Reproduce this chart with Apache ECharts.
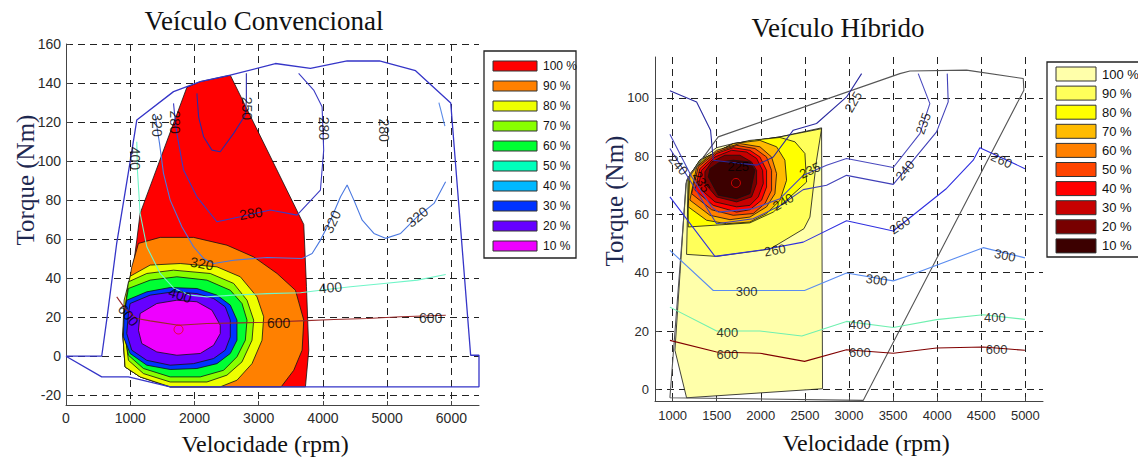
<!DOCTYPE html>
<html>
<head>
<meta charset="utf-8">
<script src="https://cdn.jsdelivr.net/npm/echarts@6/dist/echarts.min.js"></script>
<style>
html, body { margin: 0; padding: 0; background: #fff; }
#chart { width: 1138px; height: 458px; }
</style>
</head>
<body>
<div id="chart"></div>
<script>
// ---- Veículo Convencional (left) ----
var convXTicks = [0, 1000, 2000, 3000, 4000, 5000, 6000];
var convYTicks = [-20, 0, 20, 40, 60, 80, 100, 120, 140, 160];
var convLevels = ['100 %', '90 %', '80 %', '70 %', '60 %', '50 %', '40 %', '30 %', '20 %', '10 %'];

var convEnvelope = [[0, 0], [556, 0], [640, 20], [790, 58], [1000, 100], [1102, 121], [1674, 135.6], [2090, 140.7],
  [2558, 144], [3260, 150], [3806, 147.5], [4377, 151.3], [4880, 151.3], [5442, 146.3], [5990, 129.8],
  [6300, 0.5], [6430, 0.5], [6430, -15.7], [1622, -15.7], [972, -10.6], [556, -10.6], [0, 0]];

var convFill100 = [[1882, 137.8], [2090, 140.7], [2558, 144], [3702, 67.5], [3744, 35.6], [3780, 3.1], [3728, -15.7],
  [1622, -15.7], [1154, -10.6], [920, -5.5], [884, 11.6], [920, 13.3], [972, 30.4], [1040, 44.1], [1102, 59.5], [1154, 73.2]];
var convFill90 = [[1128, 57.8], [1466, 60.9], [1986, 60.9], [2506, 56.9], [2922, 50.9], [3286, 42.4], [3572, 33.8],
  [3702, 18.5], [3676, 3.1], [3546, -7.2], [3350, -15.7], [1622, -15.7], [1154, -10.6], [920, -5.5], [884, 11.6],
  [936, 28.7], [1024, 45.8]];
var convFill80 = [[1000, 41], [1310, 46.7], [1778, 47.5], [2350, 45.8], [2714, 40.7], [2974, 30.4], [3078, 20.2],
  [3052, 8.2], [2896, -3.8], [2662, -12.3], [2402, -15.7], [1622, -15.7], [1154, -10.6], [920, -5.5], [884, 11.6], [905, 28.7]];
var convFill70 = [[972, 38.1], [1258, 42.4], [1674, 44.1], [2246, 42.4], [2610, 37.3], [2818, 28.7], [2922, 18.5],
  [2896, 8.2], [2740, -2.9], [2506, -9.7], [2194, -13.2], [1622, -13.2], [1206, -8.9], [972, -2.1], [920, 11.6], [936, 28.7]];
var convFill60 = [[972, 34.7], [1310, 39.0], [1726, 40.7], [2194, 39.0], [2558, 33.8], [2740, 27.0], [2818, 18.5],
  [2792, 8.2], [2662, -0.3], [2454, -7.2], [2090, -10.6], [1622, -10.6], [1206, -6.3], [972, 0.5], [905, 11.6], [920, 25.3]];
var convFill30 = [[946, 28.7], [1258, 33.0], [1622, 35.2], [2038, 34.7], [2350, 31.3], [2558, 26.2], [2662, 18.5],
  [2662, 8.2], [2558, 1.4], [2350, -3.8], [2038, -6.3], [1622, -6.8], [1258, -4.6], [998, 1.4], [894, 9.9], [905, 21.9]];
var convFill20 = [[998, 27.0], [1310, 31.3], [1674, 33.0], [2038, 32.1], [2298, 29.6], [2480, 25.3], [2558, 18.5],
  [2558, 9.9], [2480, 3.1], [2298, -1.2], [1986, -3.8], [1622, -4.6], [1258, -2.1], [1024, 3.1], [946, 11.6], [972, 21.9]];
var convFill10 = [[1154, 21.9], [1414, 27.0], [1726, 28.7], [2038, 27.9], [2272, 23.6], [2402, 15.9], [2402, 11.6],
  [2298, 5.6], [2090, 1.4], [1726, 0.5], [1414, 2.2], [1180, 6.5], [1128, 13.3]];

var convLine250 = [[2808, 145], [2808, 131.3], [2792, 123.6], [2610, 114.2], [2402, 104.8], [2272, 105.6],
  [2142, 112.5], [2064, 122.7], [2038, 134.7]];
var convLine280 = [[1674, 129.6], [1700, 121], [1726, 114.2], [1830, 95.4], [2038, 81.7], [2350, 68.9], [2714, 71.5],
  [3182, 74.9], [3597, 72.3], [3961, 85.1], [4012, 105.6], [3987, 127.8], [3856, 136.4], [3622, 145]];
var convLine320 = [[1388, 123.6], [1456, 109.1], [1518, 93.7], [1622, 80.0], [1804, 66.3], [1986, 56.1], [2142, 50.1],
  [2298, 47.5], [2610, 49.2], [3130, 50.6], [3676, 50.1], [3832, 52.6], [3962, 59.5], [4118, 69.7], [4274, 81.7],
  [4377, 87.7], [4482, 80.0], [4612, 69.7], [4794, 62.9], [4974, 60.4], [5210, 62.9], [5470, 71.5], [5730, 78.3], [5910, 89.4]];
var convLine320b = [[5806, 129.9], [5899, 117.9]];
var convLine400 = [[1102, 109.9], [1112, 95.4], [1154, 73.2], [1258, 56.1], [1466, 42.4], [1673, 35.0], [1934, 31.3],
  [2194, 30.4], [2610, 31.3], [3130, 32.1], [3650, 32.5], [3962, 33.8], [4430, 35.6], [4950, 37.3], [5470, 39.0], [5912, 41.9]];
var convLine600 = [[790, 30.4], [920, 24.4], [1102, 19.3], [1310, 18.1], [1752, 15.9], [2194, 16.8], [2714, 17.1],
  [3130, 17.4], [3650, 18.1], [4170, 18.8], [4690, 19.3], [5210, 20.2], [5912, 21.0]];
var convCenter = [[1752, 13.7]];

// [rpm, Nm, text, angle]
var convLabels = [
  [2818, 127, '250', -90], [1690, 120, '280', -90], [1414, 118.5, '320', -90], [1076, 101.4, '400', -90],
  [2880, 73.2, '280', 8], [4012, 116.8, '280', -90], [4948, 115.9, '280', -90],
  [2116, 47.5, '320', -10], [4143, 68.9, '320', 65], [5468, 71.4, '320', 40],
  [1778, 31.3, '400', -18], [4117, 35.2, '400', 5],
  [972, 21.0, '600', -50], [3311, 16.8, '600', 0], [5676, 19.8, '600', 0]
];

// ---- Veículo Híbrido (right) ----
var hibXTicks = [1000, 1500, 2000, 2500, 3000, 3500, 4000, 4500, 5000];
var hibYTicks = [0, 20, 40, 60, 80, 100];
var hibLevels = ['100 %', '90 %', '80 %', '70 %', '60 %', '50 %', '40 %', '30 %', '20 %', '10 %'];

var hibEnvelope = [[969, -2.9], [1158, 71.7], [1517, 86.6], [3577, 108.3], [3691, 109.2], [4333, 109.5],
  [4976, 106.6], [4983, 102.6], [3161, -3.8], [969, -2.9]];

var hibFill100 = [[1158, -2.9], [1026, 13.4], [1151, 70.6], [1177, 72.6], [1309, 78.6], [1498, 82.9], [1687, 84.3],
  [2217, 86.6], [2689, 89.7], [2700, 0.2]];
var hibFill90 = [[1158, 46.3], [1498, 45.6], [2103, 48.1], [2489, 55.1], [2557, 59.1], [2632, 78.6], [2689, 89.4],
  [2217, 86.6], [1687, 84.3], [1309, 78.6], [1177, 72.6]];
var hibFill80 = [[1177, 55.7], [1876, 57.1], [2141, 60.8], [2519, 71.1], [2500, 80.9], [2387, 84.9], [2217, 86.4],
  [1876, 85.4], [1687, 84.1], [1309, 78.6], [1177, 72.6]];
var hibFill70 = [[1177, 62.6], [1385, 58.0], [1612, 56.8], [1876, 57.4], [2065, 60.3], [2217, 64.8], [2292, 71.7],
  [2273, 78.6], [2179, 83.2], [1990, 85.4], [1687, 84.3], [1385, 79.7], [1196, 74.0]];
var hibFill60 = [[1196, 64.9], [1423, 59.7], [1650, 58.2], [1876, 59.1], [2065, 62.6], [2160, 67.1], [2179, 74.0],
  [2122, 79.7], [1990, 83.2], [1763, 84.3], [1498, 82.0], [1272, 76.3]];
var hibFill50 = [[1215, 67.1], [1442, 61.6], [1687, 59.7], [1914, 60.3], [2047, 63.7], [2122, 68.3], [2122, 75.1],
  [2065, 79.7], [1933, 82.6], [1725, 83.7], [1498, 81.4], [1291, 76.3]];
var hibFill40 = [[1253, 68.3], [1461, 63.1], [1725, 60.8], [1876, 61.6], [2009, 64.9], [2065, 69.4], [2065, 75.1],
  [1990, 79.7], [1876, 82.0], [1687, 82.9], [1498, 80.9], [1309, 75.7]];
var hibFill30 = [[1291, 69.4], [1480, 64.3], [1725, 62.6], [1876, 63.1], [1971, 66.0], [2028, 70.6], [2020, 75.1],
  [1952, 79.2], [1839, 81.4], [1669, 82.0], [1480, 79.7], [1328, 75.1]];
var hibFill20 = [[1366, 70.6], [1498, 66.0], [1725, 64.3], [1895, 66.0], [1952, 70.6], [1952, 75.1], [1895, 78.0],
  [1763, 80.3], [1593, 80.3], [1442, 78.0], [1366, 74.6]];
var hibFill10 = [[1404, 72.9], [1517, 66.6], [1725, 65.4], [1876, 67.1], [1933, 75.1], [1876, 78.0], [1687, 78.6],
  [1536, 78.0], [1423, 75.7]];

var hibLine225 = [[969, 102.4], [1272, 98.6], [1430, 88.9], [1461, 78.6], [1631, 78.0], [1952, 76.9], [2141, 79.7],
  [2368, 88.9], [2632, 91.2], [2973, 100.3], [3143, 108.3]];
var hibLine235 = [[969, 87.5], [1215, 72.9], [1442, 62.6], [1517, 60.8], [1914, 62.0], [2217, 65.4], [2481, 73.4],
  [2746, 76.9], [2972, 79.2], [3502, 76.1], [3804, 87.7], [3917, 98.0], [3785, 108.3]];
var hibLine240 = [[969, 82.6], [1196, 71.7], [1498, 56.8], [1914, 58.5], [2217, 63.0], [2481, 68.5], [2746, 70.0],
  [2972, 73.4], [3502, 70.3], [3993, 88.3], [4125, 98.6], [4114, 108.3]];
var hibLine260 = [[969, 66.0], [1480, 45.6], [2028, 47.9], [2481, 50.5], [2972, 57.8], [3502, 54.3], [4106, 68.9],
  [4409, 78.6], [4484, 82.9], [4995, 75.7]];
var hibLine300 = [[969, 47.7], [1461, 33.9], [1990, 33.9], [2496, 33.9], [2972, 39.9], [3502, 37.2], [3691, 39.1],
  [4522, 48.6], [4995, 45.1]];
var hibLine400 = [[969, 28.2], [1499, 20.0], [1990, 20.0], [2465, 18.3], [2972, 23.3], [3502, 21.2], [3993, 23.9],
  [4522, 25.6], [4995, 24.0]];
var hibLine600 = [[969, 16.8], [1499, 12.8], [1990, 12.4], [2496, 9.6], [2972, 13.6], [3502, 12.4], [3993, 14.2],
  [4522, 14.5], [4995, 13.4]];
var hibCenter = [[1718, 70.8]];

var hibLabels = [
  [1064, 76.9, '240', -50], [1328, 71.2, '235', -60], [1744, 76.5, '225', 0], [2557, 75.1, '235', 25],
  [2254, 64.3, '240', 30], [2160, 47.7, '260', 10], [3048, 98.6, '225', 60], [3842, 91.2, '235', 70],
  [3634, 75.1, '240', 50], [3577, 56.3, '260', 35], [4730, 78.6, '260', -25],
  [1839, 33.7, '300', 0], [3313, 37.6, '300', -8], [4768, 46.0, '300', -12],
  [1620, 19.6, '400', 0], [3124, 22.2, '400', 0], [4655, 24.5, '400', 0],
  [1620, 12.0, '600', 0], [3124, 12.8, '600', 0], [4673, 13.7, '600', 0]
];

var convColors = ['#ff0000', '#ff8000', '#eeff00', '#88ff00', '#00ff33', '#00ffbb', '#00b8ff', '#0033ff', '#6600ff', '#ee00ff'];
var hibColors = ['#ffffaa', '#ffff5a', '#ffff00', '#ffbb00', '#ff8000', '#ff4400', '#ff0000', '#c80000', '#780000', '#3c0000'];

var chart = echarts.init(document.getElementById('chart'), null, { renderer: 'svg' });

function valueAxis(gi, min, max, ticks, fontSize, margin) {
  return {
    type: 'value', gridIndex: gi, min: min, max: max,
    axisLine: { show: true, onZero: false, lineStyle: { color: '#444', width: 1 } },
    axisTick: { show: true, inside: true, length: 4, customValues: ticks, lineStyle: { color: '#444' } },
    axisLabel: {
      customValues: ticks, color: '#2a2a2a', fontSize: fontSize, fontFamily: 'Liberation Sans', margin: margin,
      formatter: function(v) { return String(v); }
    },
    splitLine: { show: true, lineStyle: { color: '#222', width: 1, type: [7, 5] } }
  };
}

function fillSeries(gi, pts, color) {
  return {
    type: 'custom', xAxisIndex: gi, yAxisIndex: gi, z: 3, silent: true, animation: false,
    data: pts, encode: { x: 0, y: 1 },
    renderItem: function(params, api) {
      if (params.dataIndex !== 0) return null;
      return {
        type: 'polygon',
        shape: { points: pts.map(function(p) { return api.coord(p); }) },
        style: { fill: color, stroke: '#111', lineWidth: 0.8 }
      };
    }
  };
}

function lineSeries(gi, pts, color, width) {
  return {
    type: 'line', xAxisIndex: gi, yAxisIndex: gi, data: pts, symbol: 'none', showSymbol: false,
    lineStyle: { color: color, width: width || 1.1 }, z: 4, silent: true, animation: false
  };
}

function labelSeries(gi, labels, fontSize) {
  return {
    type: 'scatter', xAxisIndex: gi, yAxisIndex: gi, symbolSize: 1, z: 6, silent: true, animation: false,
    itemStyle: { color: 'transparent' },
    data: labels.map(function(l) {
      return { value: [l[0], l[1]], name: l[2], label: { rotate: l[3] } };
    }),
    label: { show: true, position: 'inside', formatter: '{b}', color: '#000', fontSize: fontSize, fontFamily: 'Liberation Sans' }
  };
}

function centerSeries(gi, pts) {
  return {
    type: 'scatter', xAxisIndex: gi, yAxisIndex: gi, data: pts, symbol: 'circle', symbolSize: 9, z: 7,
    silent: true, animation: false,
    itemStyle: { color: 'transparent', borderColor: '#ee0000', borderWidth: 1 }
  };
}

function legendGraphics(box, sw, names, colors, fontSize) {
  var els = [{
    type: 'rect', shape: { x: box.x, y: box.y, width: box.w, height: box.h },
    style: { fill: '#fff', stroke: '#222', lineWidth: 1.3 }, z: 10
  }];
  names.forEach(function(n, i) {
    var top = sw.y + i * sw.step;
    els.push({
      type: 'rect', shape: { x: sw.x, y: top, width: sw.w, height: sw.h },
      style: { fill: colors[i], stroke: '#333', lineWidth: 1 }, z: 11
    });
    els.push({
      type: 'text', x: sw.tx, y: top + sw.h / 2, z: 11,
      style: { text: n, fill: '#111', fontSize: fontSize, fontFamily: 'Liberation Sans', verticalAlign: 'middle' }
    });
  });
  return els;
}

function textEl(txt, x, y, size, color, rot) {
  return {
    type: 'text', x: x, y: y, rotation: rot || 0, z: 10,
    style: { text: txt, fill: color, fontSize: size, fontFamily: 'Liberation Serif', align: 'center', verticalAlign: 'middle' }
  };
}

var series = [];
series.push(lineSeries(0, convEnvelope, '#3535c8', 1.3));
[convFill100, convFill90, convFill80, convFill70, convFill60, convFill30, convFill20, convFill10].forEach(function(p, i) {
  var idx = [0, 1, 2, 3, 4, 7, 8, 9][i];
  series.push(fillSeries(0, p, convColors[idx]));
});
series.push(lineSeries(0, convLine250, '#2a2aa8'));
series.push(lineSeries(0, convLine280, '#3b3bc4'));
series.push(lineSeries(0, convLine320, '#4a78e0'));
series.push(lineSeries(0, convLine320b, '#5a8ae8'));
series.push(lineSeries(0, convLine400, '#70f5c8'));
series.push(lineSeries(0, convLine600, '#9a2a2a'));
series.push(labelSeries(0, convLabels, 14));
series.push(centerSeries(0, convCenter));

series.push(lineSeries(1, hibEnvelope, '#555555', 1.1));
[hibFill100, hibFill90, hibFill80, hibFill70, hibFill60, hibFill50, hibFill40, hibFill30, hibFill20, hibFill10].forEach(function(p, i) {
  series.push(fillSeries(1, p, hibColors[i]));
});
series.push(lineSeries(1, hibLine225, '#2a2aa0'));
series.push(lineSeries(1, hibLine235, '#4a4abf'));
series.push(lineSeries(1, hibLine240, '#4040b8'));
series.push(lineSeries(1, hibLine260, '#2f2fe0'));
series.push(lineSeries(1, hibLine300, '#5a8cf0'));
series.push(lineSeries(1, hibLine400, '#70f0b0'));
series.push(lineSeries(1, hibLine600, '#800000'));
series.push(labelSeries(1, hibLabels, 13));
series.push(centerSeries(1, hibCenter));

chart.setOption({
  animation: false,
  grid: [
    { left: 66, top: 44, width: 413, height: 361 },
    { left: 655, top: 57, width: 388, height: 344 }
  ],
  xAxis: [
    valueAxis(0, 0, 6430, convXTicks, 14, 6),
    valueAxis(1, 800, 5200, hibXTicks, 13, 8)
  ],
  yAxis: [
    valueAxis(0, -25, 160, convYTicks, 14, 5),
    valueAxis(1, -4, 114, hibYTicks, 13, 6)
  ],
  series: series,
  graphic: [].concat(
    [
      textEl('Veículo Convencional', 264, 21, 27, '#111'),
      textEl('Velocidade (rpm)', 265, 444, 24, '#111'),
      textEl('Torque (Nm)', 25, 180, 25, '#1e2850', Math.PI / 2),
      textEl('Veículo Híbrido', 838, 28, 27, '#111'),
      textEl('Velocidade (rpm)', 866, 443, 24, '#111'),
      textEl('Torque (Nm)', 614, 201, 25, '#1e2850', Math.PI / 2)
    ],
    legendGraphics({ x: 484, y: 51, w: 92, h: 207 }, { x: 493, y: 61, w: 44, h: 10, step: 20, tx: 543 }, convLevels, convColors, 12),
    legendGraphics({ x: 1047, y: 62, w: 100, h: 195 }, { x: 1056, y: 67, w: 40, h: 14, step: 19.1, tx: 1102 }, hibLevels, hibColors, 13)
  )
});
</script>
</body>
</html>
